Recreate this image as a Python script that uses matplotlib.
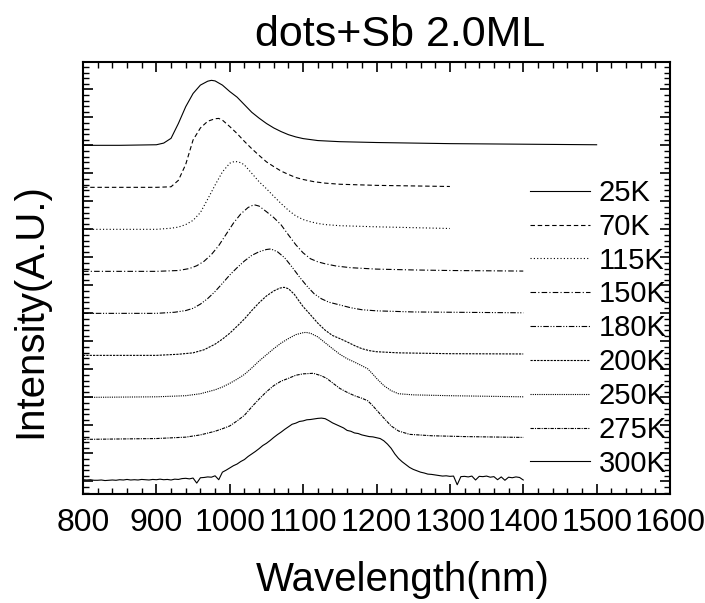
import numpy as np
import matplotlib
matplotlib.use('Agg')
import matplotlib.pyplot as plt
from matplotlib.ticker import MultipleLocator

plt.rcParams['font.family'] = ['Liberation Sans', 'DejaVu Sans']

# PL spectra, normalised and stacked (height above each baseline)
wl_25k = [800, 850, 900, 910, 920, 930, 940, 950, 960, 970, 975, 980, 990, 1000, 1010,
          1020, 1030, 1040, 1050, 1060, 1070, 1080, 1090, 1100, 1120, 1150, 1200, 1250,
          1300, 1400, 1500]
int_25k = [0.0, 0.0, 0.02, 0.08, 0.25, 0.78, 1.38, 1.85, 2.15, 2.29, 2.32, 2.30, 2.15, 1.92,
           1.72, 1.45, 1.18, 0.97, 0.78, 0.62, 0.49, 0.38, 0.30, 0.24, 0.17, 0.13, 0.10,
           0.08, 0.06, 0.04, 0.02]

wl_70k = [800, 900, 920, 930, 940, 950, 960, 970, 980, 985, 990, 1000, 1010, 1020, 1030,
          1040, 1050, 1060, 1070, 1080, 1090, 1100, 1115, 1130, 1150, 1200, 1250, 1300]
int_70k = [0.0, 0.0, 0.02, 0.25, 0.82, 1.69, 2.12, 2.36, 2.45, 2.46, 2.40, 2.17, 1.92, 1.64,
           1.38, 1.14, 0.91, 0.74, 0.58, 0.46, 0.35, 0.28, 0.20, 0.15, 0.11, 0.07, 0.05, 0.03]

wl_115k = [800, 900, 920, 930, 940, 950, 960, 970, 980, 990, 1000, 1007, 1015, 1020, 1030,
           1040, 1050, 1060, 1070, 1080, 1090, 1100, 1110, 1120, 1130, 1150, 1200, 1250, 1300]
int_115k = [0.0, 0.0, 0.04, 0.08, 0.17, 0.32, 0.60, 1.08, 1.58, 2.05, 2.36, 2.43, 2.38, 2.30,
            2.00, 1.70, 1.45, 1.18, 0.92, 0.68, 0.48, 0.35, 0.27, 0.21, 0.17, 0.13, 0.09,
            0.06, 0.03]

wl_150k = [800, 900, 930, 945, 955, 965, 975, 985, 995, 1005, 1015, 1025, 1033, 1040, 1050,
           1060, 1070, 1080, 1090, 1100, 1110, 1120, 1130, 1145, 1165, 1200, 1250, 1300, 1400]
int_150k = [0.0, 0.0, 0.03, 0.10, 0.20, 0.36, 0.60, 0.92, 1.32, 1.72, 2.05, 2.28, 2.38, 2.33,
            2.13, 1.92, 1.66, 1.30, 0.95, 0.66, 0.45, 0.34, 0.27, 0.19, 0.13, 0.08, 0.05,
            0.03, 0.01]

wl_180k = [800, 900, 925, 940, 950, 960, 970, 980, 990, 1000, 1010, 1020, 1030, 1040, 1050,
           1056, 1065, 1075, 1085, 1095, 1105, 1115, 1125, 1135, 1150, 1165, 1180, 1200,
           1250, 1400]
int_180k = [0.0, 0.0, 0.04, 0.10, 0.18, 0.33, 0.53, 0.78, 1.07, 1.37, 1.63, 1.87, 2.07, 2.20,
            2.28, 2.30, 2.20, 1.98, 1.65, 1.30, 0.98, 0.70, 0.52, 0.40, 0.30, 0.20, 0.13,
            0.09, 0.05, 0.02]

wl_200k = [800, 900, 930, 950, 965, 980, 990, 1000, 1010, 1020, 1030, 1040, 1050, 1060, 1068,
           1074, 1080, 1088, 1095, 1100, 1110, 1120, 1130, 1140, 1150, 1160, 1170, 1180,
           1190, 1200, 1230, 1300, 1400]
int_200k = [0.0, 0.0, 0.04, 0.09, 0.20, 0.40, 0.58, 0.79, 1.04, 1.30, 1.60, 1.88, 2.12, 2.30,
            2.40, 2.43, 2.38, 2.18, 1.92, 1.74, 1.45, 1.15, 0.90, 0.71, 0.60, 0.48, 0.35,
            0.24, 0.17, 0.13, 0.09, 0.06, 0.05]

wl_250k = [800, 900, 940, 960, 980, 990, 1000, 1010, 1020, 1030, 1040, 1050, 1060, 1070, 1080,
           1090, 1100, 1104, 1110, 1120, 1130, 1140, 1150, 1160, 1170, 1180, 1188, 1195,
           1200, 1210, 1220, 1230, 1250, 1300, 1400]
int_250k = [0.0, 0.02, 0.06, 0.13, 0.27, 0.37, 0.50, 0.65, 0.82, 1.05, 1.30, 1.52, 1.74, 1.94,
            2.10, 2.24, 2.31, 2.32, 2.29, 2.16, 1.95, 1.74, 1.54, 1.38, 1.26, 1.13, 1.02,
            0.83, 0.68, 0.42, 0.24, 0.13, 0.09, 0.06, 0.02]

wl_275k = [800, 900, 940, 960, 980, 990, 1000, 1010, 1020, 1030, 1040, 1050, 1060, 1070, 1080,
           1090, 1100, 1114, 1125, 1132, 1140, 1150, 1160, 1170, 1180, 1188, 1195, 1200,
           1210, 1220, 1230, 1245, 1275, 1320, 1400]
int_275k = [0.0, 0.03, 0.08, 0.16, 0.29, 0.38, 0.48, 0.66, 0.86, 1.16, 1.44, 1.70, 1.92, 2.08,
            2.18, 2.29, 2.34, 2.36, 2.27, 2.18, 2.02, 1.82, 1.68, 1.56, 1.47, 1.38, 1.20,
            1.05, 0.76, 0.48, 0.30, 0.18, 0.13, 0.10, 0.07]

# 300K is noisy, sampled every 5 nm from 800 to 1400
wl_300k = np.arange(800, 1405, 5)
int_300k = [0.06, 0.05, 0.06, 0.04, 0.04, 0.05, 0.03, 0.04, 0.05, 0.04,
            0.06, 0.05, 0.07, 0.05, 0.06, 0.05, 0.07, 0.06, 0.05, 0.07,
            0.06, 0.08, 0.06, 0.07, 0.05, 0.08, 0.07, 0.10, 0.11, 0.09,
            0.12, -0.06, 0.13, 0.14, 0.16, 0.15, 0.20, 0.06, 0.33, 0.40,
            0.48, 0.56, 0.62, 0.71, 0.78, 0.89, 0.98, 1.07, 1.17, 1.28,
            1.36, 1.46, 1.57, 1.67, 1.76, 1.86, 1.95, 2.04, 2.08, 2.14,
            2.16, 2.20, 2.21, 2.23, 2.25, 2.26, 2.24, 2.17, 2.09, 2.03,
            1.97, 1.91, 1.82, 1.79, 1.73, 1.71, 1.66, 1.63, 1.60, 1.59,
            1.56, 1.53, 1.45, 1.33, 1.18, 0.98, 0.82, 0.70, 0.60, 0.50,
            0.43, 0.38, 0.33, 0.30, 0.26, 0.25, 0.23, 0.21, 0.19, 0.20,
            0.18, 0.19, -0.12, 0.17, 0.18, 0.16, 0.19, 0.05, 0.18, 0.17,
            0.19, 0.15, 0.17, 0.06, 0.16, 0.04, 0.15, 0.13, 0.16, 0.14,
            0.05]

labels = ['25K', '70K', '115K', '150K', '180K', '200K', '250K', '275K', '300K']
offsets = [12, 10.5, 9, 7.5, 6, 4.5, 3, 1.5, 0]
spectra = [(wl_25k, int_25k), (wl_70k, int_70k), (wl_115k, int_115k),
           (wl_150k, int_150k), (wl_180k, int_180k), (wl_200k, int_200k),
           (wl_250k, int_250k), (wl_275k, int_275k), (wl_300k, int_300k)]
styles = ['-', (0, (4, 2.5)), (0, (1, 2)), (0, (5, 2, 1, 2)),
          (0, (5, 1.5, 1, 1.5, 1, 1.5)), (0, (2, 1)), (0, (1, 1)),
          (0, (3, 1, 1, 1)), '-']

fig = plt.figure(figsize=(7.05, 6.03), dpi=100)
ax = fig.add_axes([83 / 705, 1 - 494 / 603, 587 / 705, 432 / 603])

for (wl, inten), off, lab, ls in zip(spectra, offsets, labels, styles):
    ax.plot(wl, np.array(inten) + off, color='black', lw=0.8, ls=ls, label=lab)

ax.set_xlim(800, 1600)
ax.set_ylim(-0.45, 14.975)
ax.xaxis.set_major_locator(MultipleLocator(100))
ax.xaxis.set_minor_locator(MultipleLocator(20))
ax.yaxis.set_major_locator(MultipleLocator(1))
ax.yaxis.set_minor_locator(MultipleLocator(0.2))
ax.tick_params(which='both', direction='in', top=True, right=True,
               labelleft=False, labelsize=23, pad=10)
ax.tick_params(which='major', length=7, width=1.2)
ax.tick_params(which='minor', length=4, width=1.0)
for sp in ax.spines.values():
    sp.set_linewidth(1.5)

ax.legend(loc='upper left', bbox_to_anchor=(530 / 705, 1 - 179 / 603),
          bbox_transform=fig.transFigure, frameon=False, fontsize=21,
          handlelength=2.05, handletextpad=0.3, labelspacing=0.2,
          borderpad=0, borderaxespad=0)

fig.text(400 / 705, 1 - 35 / 603, 'dots+Sb 2.0ML', fontsize=31, ha='center', va='center')
fig.text(403 / 705, 1 - 580 / 603, 'Wavelength(nm)', fontsize=29, ha='center', va='center')
fig.text(30 / 705, 1 - 311 / 603, 'Intensity(A.U.)', fontsize=29, rotation=90,
         ha='center', va='center')

fig.savefig('out.png', dpi=100)
